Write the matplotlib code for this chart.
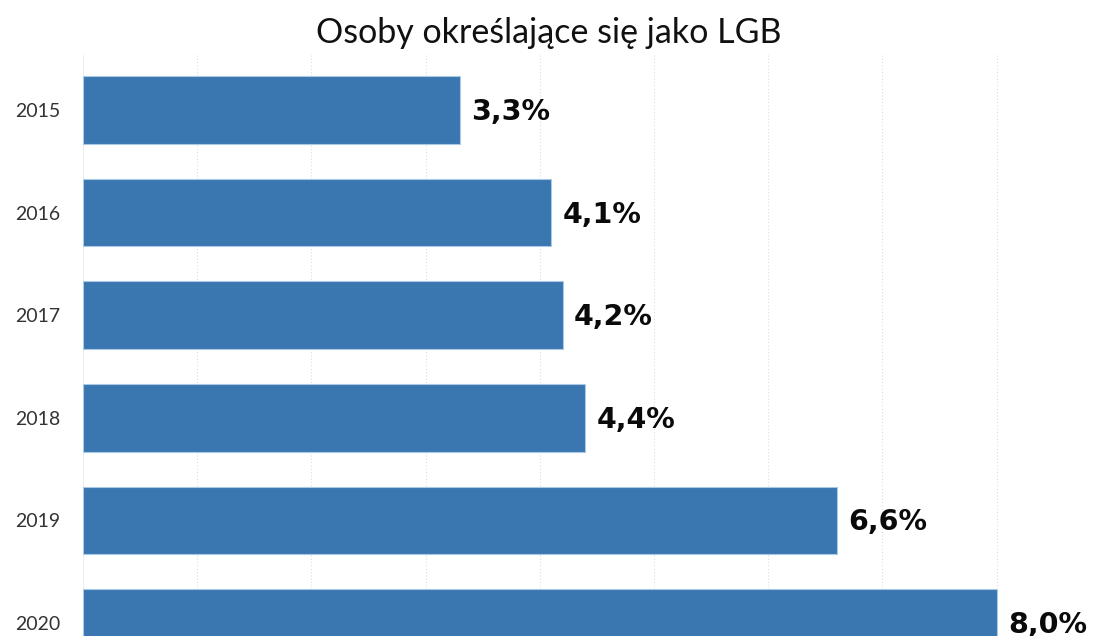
import matplotlib
matplotlib.use("Agg")
import matplotlib.pyplot as plt

years = ["2015", "2016", "2017", "2018", "2019", "2020"]
values = [3.3, 4.1, 4.2, 4.4, 6.6, 8.0]
labels = ["3,3%", "4,1%", "4,2%", "4,4%", "6,6%", "8,0%"]
title = "Osoby określające się jako LGB"

W, H = 1099, 636
fig = plt.figure(figsize=(W / 100, H / 100), dpi=100)
fig.patch.set_facecolor("white")
left = 83 / W
ax = fig.add_axes([left, 0, 1 - left, (H - 55) / H])

pos = list(range(len(years)))
ax.barh(pos, values, height=0.66, color="#3a76b0", edgecolor="#a9c9e6", linewidth=0.8, zorder=2)
for p, v, t in zip(pos, values, labels):
    ax.text(v + 0.1, p + 0.02, t, va="center", ha="left", fontsize=20.5,
            fontweight="bold", family="DejaVu Sans", color="#0a0a0a")

ax.set_xlim(0, (W - 83) / 114.2)
ax.set_ylim(5.127, -0.536)
ax.set_yticks(pos)
ax.set_yticklabels(years, family="Lato", fontsize=14, color="#333333")
ax.set_xticks(range(1, 9))
ax.xaxis.grid(True, linestyle=(0, (1, 2)), color="#dddddd", linewidth=0.8, zorder=0)
ax.tick_params(axis="x", bottom=False, labelbottom=False)
ax.tick_params(axis="y", left=False, pad=13)
for s in ax.spines.values():
    s.set_visible(False)
ax.axvline(0, color="#eeeeee", linewidth=0.8, zorder=1)

fig.text(549 / W, 1 - 33 / H, title, ha="center", va="center", fontsize=24.5,
         family="Lato", color="#111111")

fig.savefig("out.png", dpi=100)
